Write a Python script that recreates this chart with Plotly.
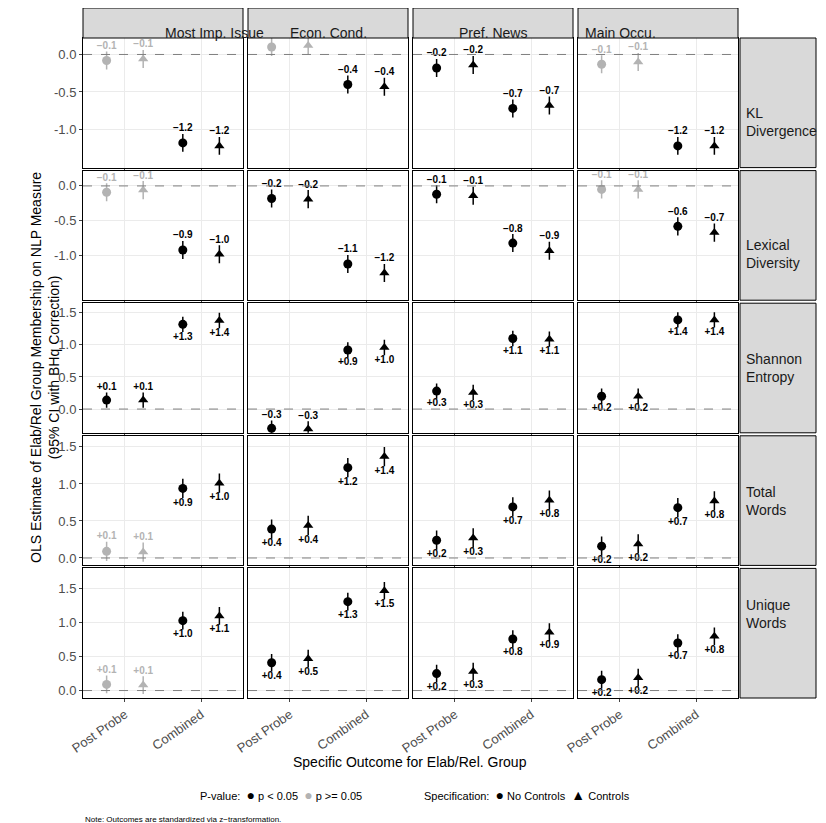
import plotly.graph_objects as go

W, H = 826, 823

cols = ["Most Imp. Issue", "Econ. Cond.", "Pref. News", "Main Occu."]
rows = ["KL<br>Divergence", "Lexical<br>Diversity", "Shannon<br>Entropy", "Total<br>Words", "Unique<br>Words"]
outcomes = ["Post Probe", "Combined"]

# estimates per row, per column: [PP no ctrl, PP ctrl, Comb no ctrl, Comb ctrl]
est = [
    [[-0.08, -0.06, -1.18, -1.22], [0.10, 0.12, -0.40, -0.43], [-0.18, -0.14, -0.72, -0.68], [-0.13, -0.10, -1.22, -1.22]],
    [[-0.09, -0.06, -0.92, -0.98], [-0.18, -0.19, -1.12, -1.25], [-0.12, -0.14, -0.82, -0.93], [-0.05, -0.05, -0.58, -0.67]],
    [[0.14, 0.14, 1.32, 1.38], [-0.30, -0.31, 0.92, 0.96], [0.28, 0.26, 1.10, 1.09], [0.20, 0.20, 1.39, 1.39]],
    [[0.09, 0.08, 0.94, 1.01], [0.39, 0.44, 1.22, 1.37], [0.24, 0.27, 0.69, 0.78], [0.16, 0.19, 0.68, 0.77]],
    [[0.09, 0.08, 1.03, 1.10], [0.41, 0.47, 1.31, 1.47], [0.25, 0.28, 0.76, 0.86], [0.16, 0.19, 0.70, 0.80]],
]
labels = [
    [["−0.1", "−0.1", "−1.2", "−1.2"], ["+0.1", "+0.1", "−0.4", "−0.4"], ["−0.2", "−0.2", "−0.7", "−0.7"], ["−0.1", "−0.1", "−1.2", "−1.2"]],
    [["−0.1", "−0.1", "−0.9", "−1.0"], ["−0.2", "−0.2", "−1.1", "−1.2"], ["−0.1", "−0.1", "−0.8", "−0.9"], ["−0.1", "−0.1", "−0.6", "−0.7"]],
    [["+0.1", "+0.1", "+1.3", "+1.4"], ["−0.3", "−0.3", "+0.9", "+1.0"], ["+0.3", "+0.3", "+1.1", "+1.1"], ["+0.2", "+0.2", "+1.4", "+1.4"]],
    [["+0.1", "+0.1", "+0.9", "+1.0"], ["+0.4", "+0.4", "+1.2", "+1.4"], ["+0.2", "+0.3", "+0.7", "+0.8"], ["+0.2", "+0.2", "+0.7", "+0.8"]],
    [["+0.1", "+0.1", "+1.0", "+1.1"], ["+0.4", "+0.5", "+1.3", "+1.5"], ["+0.2", "+0.3", "+0.8", "+0.9"], ["+0.2", "+0.2", "+0.7", "+0.8"]],
]
# significant (p < 0.05) flags
sig = [
    [[0, 0, 1, 1], [0, 0, 1, 1], [1, 1, 1, 1], [0, 0, 1, 1]],
    [[0, 0, 1, 1], [1, 1, 1, 1], [1, 1, 1, 1], [0, 0, 1, 1]],
    [[1, 1, 1, 1], [1, 1, 1, 1], [1, 1, 1, 1], [1, 1, 1, 1]],
    [[0, 0, 1, 1], [1, 1, 1, 1], [1, 1, 1, 1], [1, 1, 1, 1]],
    [[0, 0, 1, 1], [1, 1, 1, 1], [1, 1, 1, 1], [1, 1, 1, 1]],
]
ci_half = [0.12, 0.13, 0.12, 0.13, 0.13]
y_ranges = [[-1.51, 0.22], [-1.64, 0.22], [-0.37, 1.65], [-0.10, 1.65], [-0.11, 1.80]]
y_ticks = [[0, -0.5, -1.0], [0, -0.5, -1.0], [0, 0.5, 1.0, 1.5], [0, 0.5, 1.0, 1.5], [0, 0.5, 1.0, 1.5]]

col_px = [(75, 235), (240, 400), (405, 565), (570, 730)]
top0, bot = 30, 690
gap = 3
rh = (bot - top0 - 4 * gap) / 5
row_px = [(top0 + i * (rh + gap), top0 + i * (rh + gap) + rh) for i in range(5)]

def px(x):
    return x / W

def py(y):
    return 1 - y / H

fig = go.Figure()
shapes, annos = [], []
FONT = "Liberation Sans, Arial, sans-serif"

xpos = [0.76, 1.24, 1.76, 2.24]
syms = ["circle", "triangle-up", "circle", "triangle-up"]

n = 0
for r in range(5):
    for c in range(4):
        n += 1
        xa = "x" if n == 1 else f"x{n}"
        ya = "y" if n == 1 else f"y{n}"
        x0, x1 = col_px[c]
        y0, y1 = row_px[r]
        fig.update_layout(**{
            f"xaxis{'' if n == 1 else n}": dict(
                domain=[px(x0), px(x1)], anchor=ya, range=[0.45, 2.55], automargin=False,
                tickvals=[1, 2], ticktext=outcomes if r == 4 else ["", ""],
                showticklabels=(r == 4), tickangle=-35, ticks="outside", ticklen=3,
                tickfont=dict(size=13, color="#4d4d4d"),
                showgrid=True, gridcolor="#ebebeb", zeroline=False,
                showline=True, linecolor="black", mirror=True),
            f"yaxis{'' if n == 1 else n}": dict(
                domain=[py(y1), py(y0)], anchor=xa, range=y_ranges[r], automargin=False,
                tickvals=y_ticks[r], ticktext=[f"{v:.1f}" for v in y_ticks[r]],
                showticklabels=(c == 0), ticks="outside" if c == 0 else "", ticklen=3,
                tickfont=dict(size=13, color="#4d4d4d"),
                showgrid=True, gridcolor="#ebebeb", zeroline=False,
                showline=True, linecolor="black", mirror=True),
        })
        shapes.append(dict(type="line", xref=f"{xa} domain", yref=ya, x0=0, x1=1, y0=0, y1=0,
                           line=dict(color="#7f7f7f", width=1, dash="dash")))
        for k in range(4):
            e = est[r][c][k]
            col = "black" if sig[r][c][k] else "#b3b3b3"
            fig.add_trace(go.Scatter(
                x=[xpos[k]], y=[e], xaxis=xa, yaxis=ya, mode="markers",
                marker=dict(symbol=syms[k], size=9, color=col),
                error_y=dict(type="constant", value=ci_half[r], width=0, thickness=1.5, color=col),
                showlegend=False, hoverinfo="skip", cliponaxis=False))
            above = e < 0.15
            fig.add_trace(go.Scatter(
                x=[xpos[k]], y=[e + ci_half[r] if above else e - ci_half[r]], xaxis=xa, yaxis=ya,
                mode="text", text=[f"<b>{labels[r][c][k]}</b>"],
                textposition="top center" if above else "bottom center",
                textfont=dict(size=10, color=col, family=FONT),
                showlegend=False, hoverinfo="skip", cliponaxis=True))
        if r == 0:
            shapes.append(dict(type="rect", xref="paper", yref="paper", x0=px(x0), x1=px(x1),
                               y0=py(top0), y1=py(0), fillcolor="#d9d9d9", line=dict(color="black", width=1)))
            annos.append(dict(x=px((x0 + x1) / 2), y=py(15), xref="paper", yref="paper", text=cols[c],
                              showarrow=False, font=dict(size=14, color="#1a1a1a")))
    y0, y1 = row_px[r]
    shapes.append(dict(type="rect", xref="paper", yref="paper", x0=px(732), x1=px(808),
                       y0=py(y1), y1=py(y0), fillcolor="#d9d9d9", line=dict(color="black", width=1)))
    annos.append(dict(x=px(736), y=py((y0 + y1) / 2), xref="paper", yref="paper", text=rows[r],
                      xanchor="left", align="left", showarrow=False, font=dict(size=14, color="#1a1a1a")))

annos += [
    dict(x=px(18), y=py(360), xref="paper", yref="paper", textangle=-90, showarrow=False,
         text="OLS Estimate of Elab/Rel Group Membership on NLP Measure<br>(95% CI with BHq Correction)",
         font=dict(size=14, color="black")),
    dict(x=px(402), y=py(764), xref="paper", yref="paper", showarrow=False,
         text="Specific Outcome for Elab/Rel. Group", font=dict(size=14, color="black")),
    dict(x=px(190), y=py(797), xref="paper", yref="paper", showarrow=False, xanchor="left",
         text="P-value:  <span style='font-size:14px'>●</span> p < 0.05  <span style='color:#b3b3b3;font-size:14px'>●</span> p >= 0.05",
         font=dict(size=11, color="black")),
    dict(x=px(414), y=py(797), xref="paper", yref="paper", showarrow=False, xanchor="left",
         text="Specification:  <span style='font-size:14px'>●</span> No Controls  <span style='font-size:14px'>▲</span> Controls",
         font=dict(size=11, color="black")),
    dict(x=px(75), y=py(818), xref="paper", yref="paper", showarrow=False, xanchor="left",
         text="Note: Outcomes are standardized via z−transformation.", font=dict(size=8, color="black")),
]

fig.update_layout(width=W, height=H, margin=dict(l=0, r=0, t=0, b=0),
                  plot_bgcolor="white", paper_bgcolor="white",
                  font=dict(family=FONT), shapes=shapes, annotations=annos, showlegend=False)
fig.write_html("out.html")
